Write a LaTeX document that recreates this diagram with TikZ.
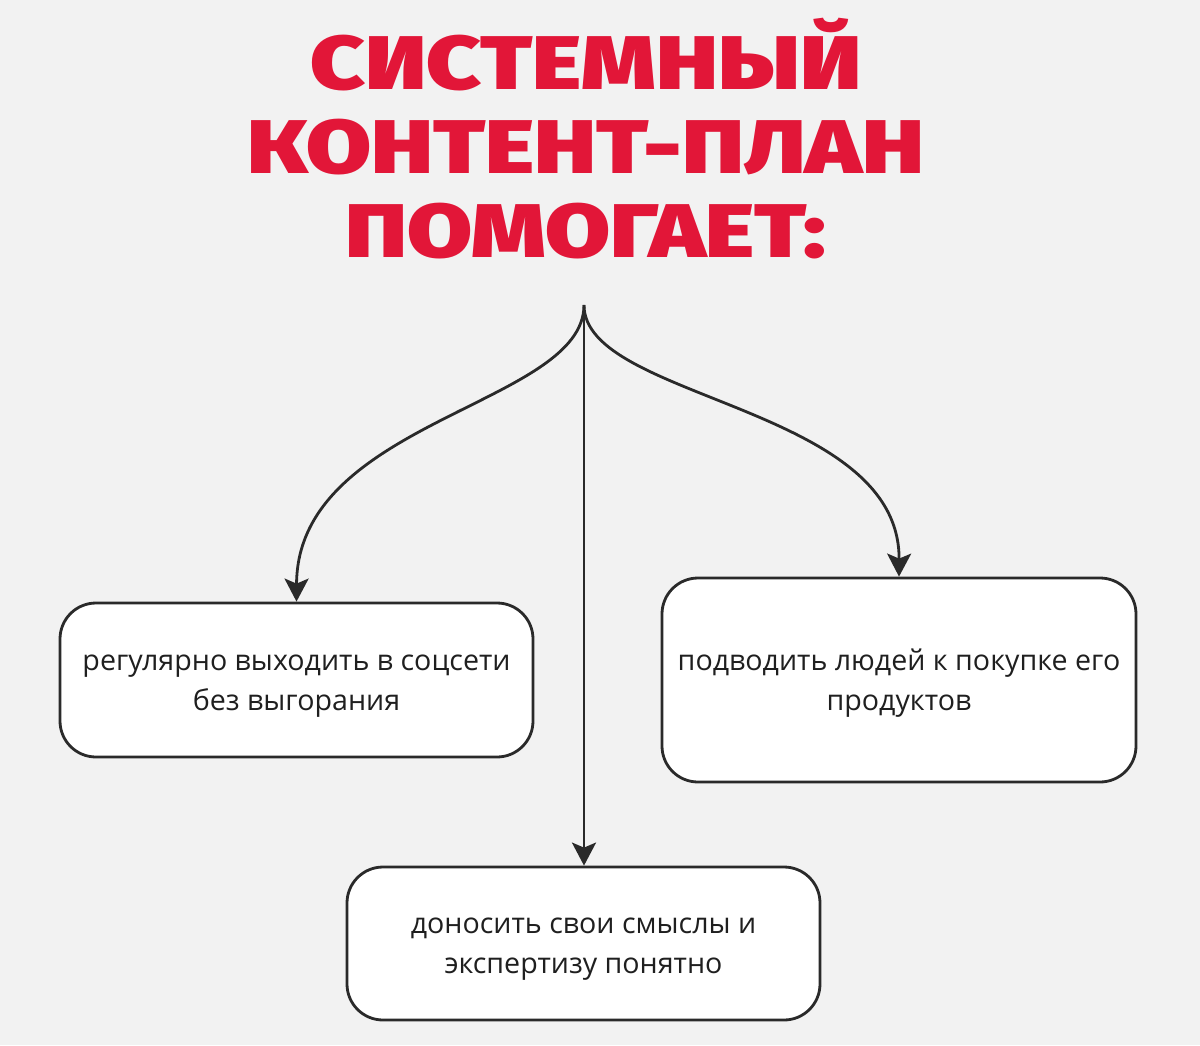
\documentclass[tikz,border=0pt]{standalone}
\usepackage{fontspec}
\setmainfont{Open Sans}
\newfontfamily\titlefont{Fira Sans}[UprightFont=* Black, FakeStretch=1.24]
\usetikzlibrary{arrows.meta}
\definecolor{pagegray}{HTML}{F2F2F2}
\definecolor{titlered}{RGB}{226,22,56}
\definecolor{inkgray}{HTML}{2A2A2A}

\begin{document}
\begin{tikzpicture}[
  x=1pt, y=-1pt,
  every node/.style={inner sep=0pt},
  title/.style={font=\titlefont\fontsize{76}{84}\selectfont, text=titlered, align=center},
  card/.style={rectangle, rounded corners=36pt, draw=inkgray, line width=2.8pt, fill=white,
               font=\fontsize{28.6}{40}\selectfont, text=black!88, align=center,
               text height=62pt, text depth=2pt},
  link/.style={draw=inkgray, line width=2.8pt, -{Stealth[length=23pt, width=24pt, inset=5pt]}}]

  % ---- page -----------------------------------------------------------------
  \fill[pagegray] (0,0) rectangle (1200,1045);
  \useasboundingbox (0,0) rectangle (1200,1045);

  % ---- heading --------------------------------------------------------------
  \node[title] (head) at (586,139) {СИСТЕМНЫЙ\\КОНТЕНТ-ПЛАН\\ПОМОГАЕТ:};

  % ---- cards ----------------------------------------------------------------
  \node[card, minimum width=473pt, minimum height=154pt] (left)  at (296.5,680)
    {регулярно выходить в соцсети\\без выгорания};
  \node[card, minimum width=474pt, minimum height=204pt] (right) at (899,680)
    {подводить людей к покупке его\\продуктов};
  \node[card, minimum width=473pt, minimum height=153pt] (down)  at (583.5,943.5)
    {доносить свои смыслы и\\экспертизу понятно};

  % ---- connectors -----------------------------------------------------------
  \coordinate (root) at (584,305);
  \draw[link] (root) .. controls (584,405) and (297,420) .. (left.north);
  \draw[link] (root) .. controls (584,400) and (900,405) .. (right.north);
  \draw[link] (root) -- (root |- down.north);
\end{tikzpicture}
\end{document}
